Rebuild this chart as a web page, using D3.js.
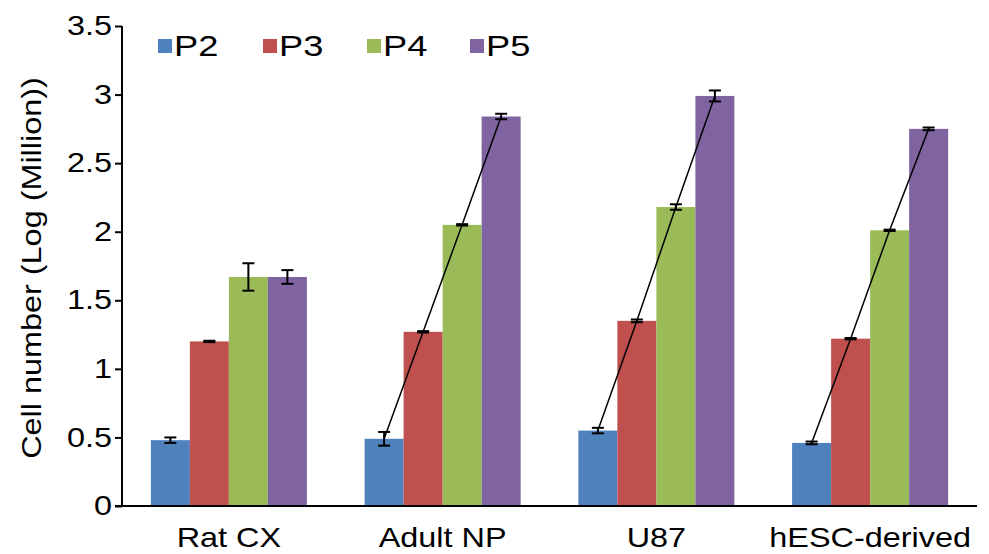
<!DOCTYPE html>
<html lang="en">
<head>
<meta charset="utf-8">
<script src="https://d3js.org/d3.v7.min.js"></script>
<style>
  body { margin: 0; background: #fff; }
  text { font-family: "Liberation Sans", Arial, sans-serif; fill: #000; }
</style>
</head>
<body>
<script>
var categories = ["Rat CX", "Adult NP", "U87", "hESC-derived"];
var series = ["P2", "P3", "P4", "P5"];
var colors = ["#4F81BD", "#C0504D", "#9BBB59", "#8064A2"];
// means per category, one array per passage
var p2 = [0.48, 0.49, 0.55, 0.46];
var p3 = [1.20, 1.27, 1.35, 1.22];
var p4 = [1.67, 2.05, 2.18, 2.01];
var p5 = [1.67, 2.84, 2.99, 2.75];
// error (+/-)
var e2 = [0.02, 0.05, 0.02, 0.01];
var e3 = [0.005, 0.005, 0.01, 0.005];
var e4 = [0.10, 0.005, 0.02, 0.005];
var e5 = [0.05, 0.02, 0.04, 0.01];
var yTicks = [0, 0.5, 1, 1.5, 2, 2.5, 3, 3.5];
var trendCats = ["Adult NP", "U87", "hESC-derived"];

var means = [p2, p3, p4, p5];
var errs = [e2, e3, e4, e5];

var width = 989, height = 554;
var margin = {left: 122, right: 12, top: 26, bottom: 48};
var stretch = 1.2; // text in the original is a bit wide

var svg = d3.select("body").append("svg")
    .attr("width", width)
    .attr("height", height);

var x0 = d3.scaleBand()
    .domain(categories)
    .range([margin.left, width - margin.right])
    .paddingInner(0.27)
    .paddingOuter(0.135);

var x1 = d3.scaleBand()
    .domain(series)
    .range([0, x0.bandwidth()]);

var y = d3.scaleLinear()
    .domain([0, 3.5])
    .range([height - margin.bottom, margin.top]);

// build rows
var rows = [];
categories.forEach(function(c, ci) {
    series.forEach(function(s, si) {
        rows.push({cat: c, s: s, si: si, v: means[si][ci], e: errs[si][ci]});
    });
});

var bars = svg.append("g");
bars.selectAll("rect")
    .data(rows)
    .enter().append("rect")
    .attr("x", function(d) { return x0(d.cat) + x1(d.s); })
    .attr("y", function(d) { return y(d.v); })
    .attr("width", x1.bandwidth())
    .attr("height", function(d) { return y(0) - y(d.v); })
    .attr("fill", function(d) { return colors[d.si]; });

// trend lines
var line = d3.line()
    .x(function(d) { return x0(d.cat) + x1(d.s) + x1.bandwidth() / 2; })
    .y(function(d) { return y(d.v); });

trendCats.forEach(function(c) {
    svg.append("path")
        .datum(rows.filter(function(d) { return d.cat === c; }))
        .attr("d", line)
        .attr("fill", "none")
        .attr("stroke", "#000")
        .attr("stroke-width", 1.5);
});

// error bars
var cap = 6;
var eb = svg.append("g").attr("stroke", "#000").attr("stroke-width", 2);
rows.forEach(function(d) {
    var cx = x0(d.cat) + x1(d.s) + x1.bandwidth() / 2;
    var yt = y(d.v + d.e), yb = y(d.v - d.e);
    eb.append("line").attr("x1", cx).attr("x2", cx).attr("y1", yt).attr("y2", yb);
    eb.append("line").attr("x1", cx - cap).attr("x2", cx + cap).attr("y1", yt).attr("y2", yt);
    eb.append("line").attr("x1", cx - cap).attr("x2", cx + cap).attr("y1", yb).attr("y2", yb);
});

// y axis
var yAxis = svg.append("g")
    .attr("transform", "translate(" + margin.left + ",0)")
    .call(d3.axisLeft(y).tickValues(yTicks).tickSize(7)
        .tickFormat(function(d) { return String(d); }));
yAxis.select(".domain").attr("stroke-width", 2).attr("d",
    "M0," + y(3.5) + "V" + y(0));
yAxis.selectAll(".tick line").attr("stroke-width", 2);
yAxis.selectAll(".tick text")
    .attr("font-size", 27)
    .attr("x", -10 / stretch)
    .attr("transform", "scale(" + stretch + ",1)");

// x axis
var xAxis = svg.append("g")
    .attr("transform", "translate(0," + y(0) + ")")
    .call(d3.axisBottom(x0).tickSize(0));
xAxis.select(".domain").attr("stroke-width", 2)
    .attr("d", "M" + (margin.left - 7) + ",0H" + (width - margin.right));
xAxis.selectAll(".tick text")
    .attr("font-size", 27)
    .attr("y", 41).attr("dy", 0)
    .attr("transform", "scale(" + stretch + ",1)");

// y label
svg.append("text")
    .attr("transform", "translate(32," + ((y(0) + y(3.5)) / 2 + 2) + ") rotate(-90) scale(" + stretch + ",1)")
    .attr("text-anchor", "middle")
    .attr("dy", "0.35em")
    .attr("font-size", 27)
    .text("Cell number (Log (Million))");

// legend
var legendX = [158, 263, 367, 470];
var leg = svg.append("g");
series.forEach(function(s, i) {
    leg.append("rect")
        .attr("x", legendX[i]).attr("y", 39)
        .attr("width", 14).attr("height", 14)
        .attr("fill", colors[i]);
    leg.append("text")
        .attr("transform", "translate(" + (legendX[i] + 16) + ",56) scale(1.25,1)")
        .attr("font-size", 29)
        .text(s);
});
</script>
</body>
</html>
